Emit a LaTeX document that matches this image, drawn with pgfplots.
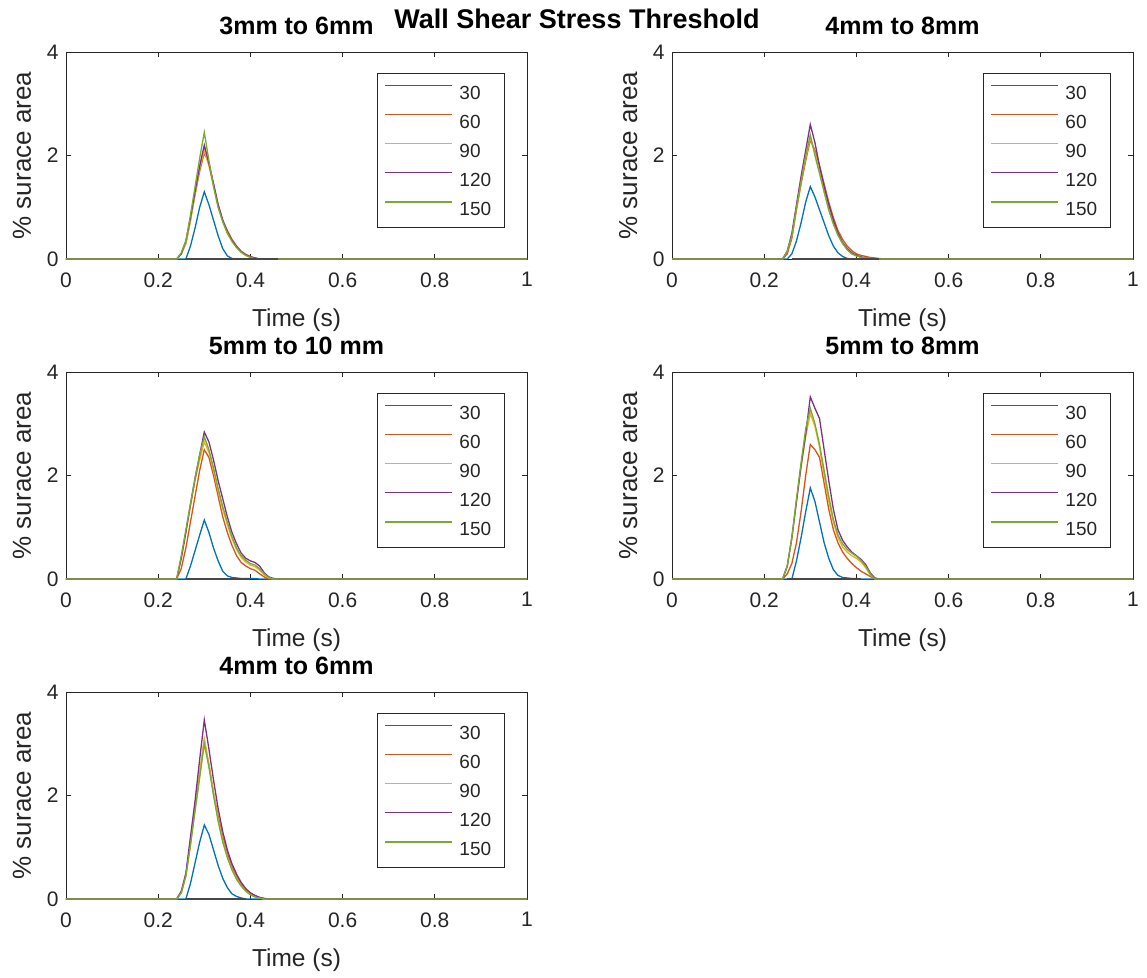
\documentclass[border=0pt]{standalone}
\usepackage{pgfplots}
\pgfplotsset{compat=1.18}
\usepackage{pgfplotstable}
\usepackage{fontspec}
\setmainfont{Liberation Sans}
\definecolor{c1}{rgb}{0,0.447,0.741}
\definecolor{c2}{rgb}{0.85,0.325,0.098}
\definecolor{c3}{rgb}{0.929,0.694,0.125}
\definecolor{c4}{rgb}{0.494,0.184,0.556}
\definecolor{c5}{rgb}{0.466,0.674,0.188}
\definecolor{axgray}{rgb}{0.15,0.15,0.15}
\definecolor{basegray}{rgb}{0.28,0.28,0.28}

\pgfplotstableread{
t a b c d e
0 0 0 0 0 0
0.24 0 0 0 0 0
0.25 0 0.1 0.1 0.1 0.12
0.26 0 0.3 0.3 0.35 0.35
0.27 0.25 0.75 0.75 0.8 0.85
0.28 0.6 1.25 1.25 1.3 1.4
0.29 1.0 1.7 1.75 1.8 1.95
0.30 1.3 2.05 2.1 2.2 2.45
0.31 1.05 1.85 1.8 1.85 1.9
0.32 0.75 1.45 1.4 1.45 1.4
0.33 0.45 1.05 1.0 1.05 1.0
0.34 0.2 0.75 0.72 0.75 0.72
0.35 0.06 0.55 0.5 0.52 0.5
0.36 0.01 0.38 0.35 0.36 0.34
0.37 0 0.25 0.22 0.24 0.22
0.38 0 0.15 0.13 0.14 0.13
0.39 0 0.09 0.07 0.08 0.07
0.40 0 0.05 0.03 0.04 0.03
0.41 0 0.02 0.01 0.02 0.01
0.42 0 0 0 0 0
1 0 0 0 0 0
}\tA

\pgfplotstableread{
t a b c d e
0 0 0 0 0 0
0.24 0 0 0 0 0
0.25 0 0.1 0.15 0.15 0.15
0.26 0.1 0.4 0.45 0.5 0.45
0.27 0.35 0.95 1.0 1.05 1.0
0.28 0.7 1.45 1.5 1.6 1.5
0.29 1.1 1.9 1.95 2.1 2.0
0.30 1.4 2.3 2.35 2.6 2.4
0.31 1.2 2.1 2.05 2.25 2.0
0.32 0.95 1.8 1.7 1.8 1.65
0.33 0.7 1.45 1.3 1.4 1.3
0.34 0.45 1.1 0.95 1.05 0.95
0.35 0.25 0.8 0.68 0.75 0.68
0.36 0.12 0.55 0.46 0.5 0.46
0.37 0.05 0.38 0.3 0.32 0.3
0.38 0.01 0.25 0.18 0.2 0.18
0.39 0 0.16 0.1 0.12 0.1
0.40 0 0.1 0.06 0.07 0.06
0.41 0 0.07 0.04 0.04 0.03
0.42 0 0.05 0.02 0.02 0.02
0.43 0 0.03 0.01 0.01 0.01
0.44 0 0.02 0 0 0
0.45 0 0.01 0 0 0
0.46 0 0 0 0 0
1 0 0 0 0 0
}\tB

\pgfplotstableread{
t a b c d e
0 0 0 0 0 0
0.24 0 0 0 0 0
0.25 0 0.2 0.4 0.4 0.45
0.26 0 0.6 0.9 0.9 0.95
0.27 0.25 1.1 1.4 1.45 1.45
0.28 0.55 1.6 1.9 1.95 1.95
0.29 0.85 2.1 2.3 2.4 2.4
0.30 1.14 2.5 2.65 2.84 2.75
0.31 0.9 2.35 2.45 2.65 2.5
0.32 0.6 2.0 2.1 2.3 2.15
0.33 0.35 1.6 1.7 1.9 1.75
0.34 0.15 1.2 1.35 1.55 1.4
0.35 0.06 0.9 1.05 1.2 1.1
0.36 0.03 0.65 0.78 0.9 0.82
0.37 0.02 0.45 0.57 0.68 0.6
0.38 0.01 0.32 0.42 0.5 0.45
0.39 0.01 0.25 0.33 0.4 0.36
0.40 0.01 0.2 0.27 0.35 0.3
0.41 0.01 0.17 0.24 0.32 0.27
0.42 0 0.1 0.17 0.25 0.2
0.43 0 0.04 0.08 0.12 0.1
0.44 0 0 0.02 0.04 0.03
0.45 0 0 0 0.01 0
0.46 0 0 0 0 0
1 0 0 0 0 0
}\tC

\pgfplotstableread{
t a b c d e
0 0 0 0 0 0
0.24 0 0 0 0 0
0.25 0 0.1 0.25 0.25 0.25
0.26 0 0.3 0.8 0.8 0.8
0.27 0.35 0.7 1.5 1.5 1.55
0.28 0.8 1.3 2.15 2.2 2.25
0.29 1.3 2.0 2.75 2.8 2.9
0.30 1.76 2.6 3.2 3.52 3.3
0.31 1.5 2.5 2.95 3.3 3.0
0.32 1.1 2.35 2.55 3.1 2.6
0.33 0.7 1.85 2.0 2.5 2.1
0.34 0.4 1.35 1.5 1.9 1.6
0.35 0.18 0.95 1.1 1.35 1.15
0.36 0.07 0.7 0.8 0.95 0.85
0.37 0.03 0.52 0.62 0.75 0.68
0.38 0.02 0.4 0.52 0.62 0.57
0.39 0.01 0.3 0.45 0.52 0.5
0.40 0.01 0.22 0.4 0.45 0.44
0.41 0 0.15 0.33 0.38 0.36
0.42 0 0.1 0.22 0.28 0.25
0.43 0 0.05 0.08 0.12 0.1
0.44 0 0 0.01 0.02 0
0.45 0 0 0 0 0
1 0 0 0 0 0
}\tD

\pgfplotstableread{
t a b c d e
0 0 0 0 0 0
0.24 0 0 0 0 0
0.25 0 0.12 0.12 0.15 0.12
0.26 0 0.45 0.45 0.5 0.45
0.27 0.3 1.05 1.1 1.2 1.05
0.28 0.7 1.75 1.8 1.9 1.7
0.29 1.1 2.4 2.45 2.7 2.35
0.30 1.43 3.05 3.1 3.46 3.0
0.31 1.25 2.6 2.6 2.9 2.55
0.32 0.95 2.05 2.05 2.3 2.0
0.33 0.65 1.6 1.55 1.75 1.5
0.34 0.4 1.2 1.15 1.3 1.1
0.35 0.22 0.88 0.82 0.95 0.8
0.36 0.1 0.62 0.58 0.68 0.56
0.37 0.05 0.43 0.4 0.48 0.38
0.38 0.02 0.28 0.26 0.32 0.25
0.39 0 0.17 0.16 0.2 0.15
0.40 0 0.1 0.09 0.12 0.08
0.41 0 0.06 0.05 0.07 0.04
0.42 0 0.03 0.02 0.03 0.02
0.43 0 0.01 0 0.01 0
0.44 0 0 0 0 0
1 0 0 0 0 0
}\tE

\pgfplotsset{
  wss/.style={
    width=461pt, height=207pt, scale only axis,
    xmin=0, xmax=1, ymin=0, ymax=4,
    xtick={0,0.2,0.4,0.6,0.8,1}, ytick={0,2,4},
    tick align=inside, tick pos=both,
    major tick length=5pt,
    axis line style={axgray, line width=0.8pt},
    every tick/.style={axgray, line width=0.8pt},
    ticklabel style={font=\fontsize{21}{24}\selectfont, text=axgray},
    xticklabel style={yshift=-10pt},
    yticklabel style={xshift=-4pt},
    /pgf/number format/assume math mode=true,
    xlabel={Time (s)}, ylabel={\% surace area},
    xlabel style={font=\fontsize{24.5}{27}\selectfont, text=axgray, at={(0.5,0)}, anchor=base, yshift=-67pt},
    ylabel style={font=\fontsize{26}{28}\selectfont, text=axgray, at={(0,0.5)}, anchor=base, yshift=35pt},
    title style={font=\bfseries\fontsize{25}{28}\selectfont, text=black, at={(0.5,1)}, anchor=base, yshift=12pt},
    every axis plot/.append style={line width=1.3pt},
    legend cell align=left,
    legend image code/.code={\draw[#1, line width=1.3pt] (0pt,7pt) -- (67pt,7pt);},
    legend style={at={(0.952,0.897)}, anchor=north east, draw=axgray, line width=0.8pt,
      font=\fontsize{19}{21}\selectfont, text=axgray,
      inner xsep=7pt, inner ysep=11pt, row sep=14.5pt, column sep=7pt,
      nodes={inner sep=0pt, text height=14pt, text depth=0pt}},
  }
}

\newcommand{\fiveplots}[3]{%
  \addplot[c1] table[x=t,y=a]{#1};
  \addplot[c2] table[x=t,y=b]{#1};
  \addplot[c3] table[x=t,y=c]{#1};
  \addplot[c4] table[x=t,y=d]{#1};
  \addplot[c5] table[x=t,y=e]{#1};
  \addplot[basegray, forget plot] coordinates {(#2,0) (#3,0)};
  \legend{30,60,90,120,\makebox[38pt][l]{150}}
}

\begin{document}
\begin{tikzpicture}
\useasboundingbox (0,0) rectangle (1147pt,-977pt);
\node[font=\bfseries\fontsize{27}{30}\selectfont, anchor=base] at (577pt,-28pt) {Wall Shear Stress Threshold};

\begin{axis}[wss, at={(66pt,-259pt)}, anchor=south west, title={3mm to 6mm}]
\fiveplots{\tA}{0.26}{0.46}
\end{axis}

\begin{axis}[wss, at={(672pt,-259pt)}, anchor=south west, title={4mm to 8mm}]
\fiveplots{\tB}{0.26}{0.45}
\end{axis}

\begin{axis}[wss, at={(66pt,-579pt)}, anchor=south west, title={5mm to 10 mm}]
\fiveplots{\tC}{0.26}{0.40}
\end{axis}

\begin{axis}[wss, at={(672pt,-579pt)}, anchor=south west, title={5mm to 8mm}]
\fiveplots{\tD}{0.25}{0.41}
\end{axis}

\begin{axis}[wss, at={(66pt,-899pt)}, anchor=south west, title={4mm to 6mm}]
\fiveplots{\tE}{0.26}{0.39}
\end{axis}
\end{tikzpicture}
\end{document}
